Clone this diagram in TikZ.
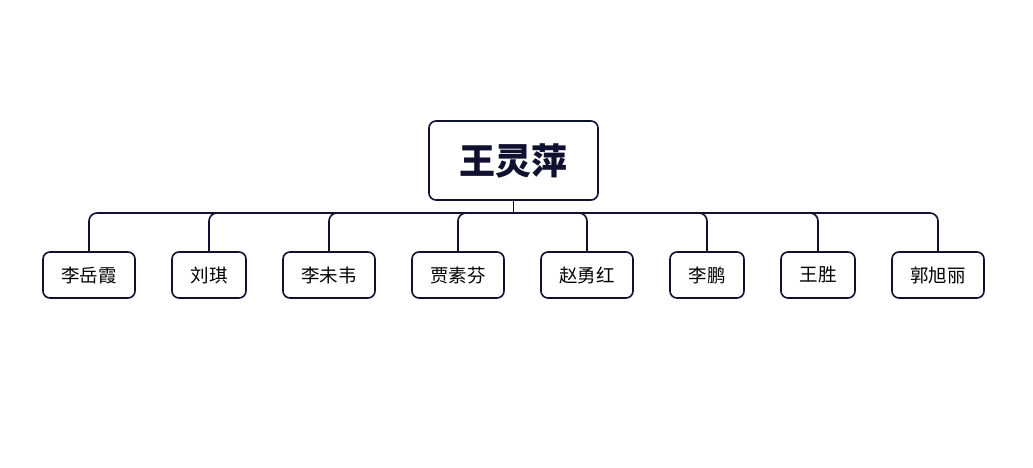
\documentclass[tikz,border=0pt]{standalone}
\usepackage{fontspec}
\setmainfont{Noto Sans CJK SC}
\usepackage{tikz}
\usetikzlibrary{positioning}
\definecolor{boxline}{RGB}{16,16,48}

\begin{document}
\begin{tikzpicture}[x=1pt, y=-1pt,
    rootbox/.style={draw=boxline, line width=1.6pt, rounded corners=7pt, fill=white,
      minimum width=169pt, minimum height=79pt, inner sep=0pt,
      font=\fontsize{36}{40}\selectfont\bfseries, text=boxline},
    kidbox/.style={draw=boxline, line width=1.6pt, rounded corners=7pt, fill=white,
      minimum height=46pt, inner sep=0pt,
      font=\fontsize{18.5}{22}\selectfont, text=black},
    link/.style={draw=boxline, line width=1.6pt, rounded corners=8pt}]

      \useasboundingbox (0,0) rectangle (1033,468);

      \node[rootbox] (root) at (513.5,160.5) {王灵萍};
      \coordinate (bus) at (513.5,213);

      % children on one row
      \foreach \name/\xc/\bw/\txt in {c1/89/92/李岳霞, c2/209/74/刘琪, c3/329/92/李未韦,
        c4/458/92/贾素芬, c5/587/92/赵勇红, c6/707/74/李鹏, c7/818/74/王胜, c8/938/92/郭旭丽}{
        \node[kidbox, minimum width=\bw pt] (\name) at (\xc,275) {\txt};
        \draw[link] (bus) -| (\name.north);
      }

      \draw[link] (root.south) -- (bus);

\end{tikzpicture}
\end{document}
